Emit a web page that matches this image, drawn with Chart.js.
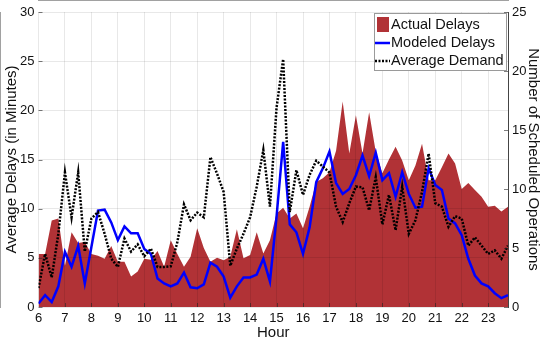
<!DOCTYPE html>
<html>
<head>
<meta charset="utf-8">
<script src="https://cdn.jsdelivr.net/npm/chart.js@4.4.1/dist/chart.umd.min.js"></script>
<style>
    html, body { margin: 0; padding: 0; background: #fff; }
    #delayChart { display: block; }
</style>
</head>
<body>
<canvas id="delayChart" width="542" height="344"></canvas>
<script>
// Quarter-hour bins, 6:00 to 23:45
const hours = [
    6, 6.25, 6.5, 6.75, 7, 7.25, 7.5, 7.75, 8, 8.25, 8.5, 8.75,
    9, 9.25, 9.5, 9.75, 10, 10.25, 10.5, 10.75, 11, 11.25, 11.5, 11.75,
    12, 12.25, 12.5, 12.75, 13, 13.25, 13.5, 13.75, 14, 14.25, 14.5, 14.75,
    15, 15.25, 15.5, 15.75, 16, 16.25, 16.5, 16.75, 17, 17.25, 17.5, 17.75,
    18, 18.25, 18.5, 18.75, 19, 19.25, 19.5, 19.75, 20, 20.25, 20.5, 20.75,
    21, 21.25, 21.5, 21.75, 22, 22.25, 22.5, 22.75, 23, 23.25, 23.5, 23.75
];

// Left axis (minutes)
const actualDelays = [
    5.4, 5.4, 8.8, 9.0, 4.2, 7.6, 6.5, 6.6, 5.4, 5.2, 4.9, 6.2,
    4.6, 4.6, 3.1, 3.6, 4.9, 4.8, 5.7, 4.1, 6.8, 5.4, 4.1, 5.1,
    8.0, 6.0, 4.6, 5.0, 4.75, 5.1, 7.9, 4.95, 5.3, 7.6, 5.45, 6.8,
    9.5, 10.1, 9.0, 9.5, 8.0, 10.2, 12.7, 13.1, 13.7, 15.9, 20.9, 15.6,
    19.5, 15.6, 19.8, 15.8, 13.6, 15.0, 16.3, 14.9, 12.9, 14.4, 16.6, 12.9,
    12.9, 14.2, 15.6, 14.6, 12.0, 12.6, 11.9, 11.2, 10.2, 10.3, 9.7, 10.2
];

const modeledDelays = [
    0.35, 1.2, 0.5, 2.1, 5.6, 4.1, 6.2, 2.4, 6.1, 9.8, 9.9, 8.6,
    6.8, 8.2, 7.5, 7.5, 5.9, 5.4, 2.9, 2.4, 2.1, 2.4, 3.5, 2.0,
    1.9, 2.3, 4.5, 4.1, 3.1, 0.95, 2.1, 3.0, 3.0, 3.3, 4.9, 2.6,
    9.2, 16.8, 8.4, 7.6, 5.4, 8.1, 12.7, 14.1, 15.8, 12.6, 11.5, 12.0,
    13.4, 15.4, 13.3, 15.7, 12.9, 13.6, 11.2, 13.7, 11.5, 10.1, 10.2, 14.1,
    12.4, 11.9, 9.0, 8.5, 7.3, 4.9, 3.2, 2.4, 2.1, 1.4, 0.9, 1.2
];

// Right axis (scheduled operations)
const averageDemand = [
    1.6, 4.5, 2.5, 6.2, 11.4, 7.6, 11.4, 4.7, 7.5, 8.05, 6.2, 4.1,
    3.4, 5.8, 4.7, 5.3, 4.3, 4.95, 3.4, 3.4, 3.45, 5.5, 8.7, 7.35,
    8.0, 7.6, 12.7, 11.3, 9.75, 3.5, 4.95, 6.2, 7.6, 10.2, 13.3, 8.5,
    16.9, 21.0, 8.05, 11.6, 9.5, 11.2, 12.4, 11.9, 11.4, 8.5, 7.2, 8.8,
    10.2, 10.15, 8.2, 11.0, 7.0, 9.5, 6.5, 10.2, 6.2, 7.35, 9.75, 13.0,
    8.8, 8.5, 6.8, 7.7, 7.5, 5.2, 5.9, 5.2, 4.5, 4.8, 4.1, 5.2
];

const delayTicks = [0, 5, 10, 15, 20, 25, 30];
const demandTicks = [0, 5, 10, 15, 20, 25];

const RED = '#b13236';
const FONT = '"Liberation Sans", Arial, Helvetica, sans-serif';

function toPoints(values) {
    return values.map((v, i) => ({ x: hours[i], y: v }));
}

// MATLAB-style legend box inside the plot
const legendBox = {
    id: 'legendBox',
    afterDraw(chart) {
        const c = chart.ctx;
        const x = chart.chartArea.right - 134, y = chart.chartArea.top + 1;
        const w = 132, h = 57;
        c.save();
        c.fillStyle = '#fff';
        c.fillRect(x, y, w, h);
        c.strokeStyle = '#9a9a9a';
        c.lineWidth = 1;
        c.strokeRect(x + 0.5, y + 0.5, w, h);

        c.font = '14.5px ' + FONT;
        c.fillStyle = '#111';
        c.textBaseline = 'middle';

        // Actual Delays
        c.fillStyle = RED;
        c.fillRect(x + 3, y + 4, 12, 15);
        c.fillStyle = '#111';
        c.fillText('Actual Delays', x + 17, y + 12);

        // Modeled Delays
        c.strokeStyle = '#0000ff';
        c.lineWidth = 2.5;
        c.beginPath();
        c.moveTo(x + 1, y + 30);
        c.lineTo(x + 16, y + 30);
        c.stroke();
        c.fillText('Modeled Delays', x + 17, y + 30);

        // Average Demand
        c.strokeStyle = '#000';
        c.setLineDash([2, 1.5]);
        c.beginPath();
        c.moveTo(x + 1, y + 48);
        c.lineTo(x + 16, y + 48);
        c.stroke();
        c.setLineDash([]);
        c.fillText('Average Demand', x + 17, y + 48);
        c.restore();
    }
};

// small inward tick marks like the original
const innerTicks = {
    id: 'innerTicks',
    afterDatasetsDraw(chart) {
        const { ctx: c, chartArea: a, scales } = chart;
        c.save();
        c.strokeStyle = 'rgba(40,40,40,0.6)';
        c.lineWidth = 1;
        c.beginPath();
        for (let hr = 7; hr <= 23; hr++) {
            const px = Math.round(scales.x.getPixelForValue(hr)) + 0.5;
            c.moveTo(px, a.bottom);
            c.lineTo(px, a.bottom - 4);
        }
        delayTicks.forEach(t => {
            const py = Math.round(scales.y.getPixelForValue(t)) + 0.5;
            c.moveTo(a.left, py);
            c.lineTo(a.left + 4, py);
        });
        demandTicks.forEach(t => {
            const py = Math.round(scales.y2.getPixelForValue(t)) + 0.5;
            c.moveTo(a.right, py);
            c.lineTo(a.right - 4, py);
        });
        c.stroke();
        c.restore();
    }
};

const ctx = document.getElementById('delayChart');

new Chart(ctx, {
    type: 'line',
    data: {
        datasets: [
            {
                label: 'Actual Delays',
                data: toPoints(actualDelays),
                yAxisID: 'y',
                fill: 'origin',
                backgroundColor: RED,
                borderColor: RED,
                borderWidth: 0,
                pointRadius: 0,
                tension: 0,
                order: 3
            },
            {
                label: 'Modeled Delays',
                data: toPoints(modeledDelays),
                yAxisID: 'y',
                fill: false,
                borderColor: '#0000ff',
                borderWidth: 2.5,
                pointRadius: 0,
                tension: 0,
                order: 2
            },
            {
                label: 'Average Demand',
                data: toPoints(averageDemand),
                yAxisID: 'y2',
                fill: false,
                borderColor: '#000',
                borderWidth: 2.5,
                borderDash: [2, 1.5],
                pointRadius: 0,
                tension: 0,
                order: 1
            }
        ]
    },
    options: {
        responsive: false,
        animation: false,
        layout: { padding: { top: 12, left: 0, right: 0, bottom: 0 } },
        scales: {
            x: {
                type: 'linear',
                min: 6,
                max: 23.75,
                afterBuildTicks: scale => {
                    scale.ticks = [6, 7, 8, 9, 10, 11, 12, 13, 14, 15, 16, 17, 18, 19, 20, 21, 22, 23].map(v => ({ value: v }));
                },
                afterFit: scale => { scale.height = 37; },
                grid: { color: 'rgba(0,0,0,0.09)', drawTicks: false, z: 1 },
                border: { color: '#444', width: 1 },
                ticks: {
                    color: '#111',
                    font: { family: FONT, size: 13 },
                    padding: 4,
                    maxRotation: 0,
                    callback: v => v
                },
                title: {
                    display: true,
                    text: 'Hour',
                    color: '#111',
                    font: { family: FONT, size: 15 },
                    padding: { top: 0, bottom: 2 }
                }
            },
            y: {
                position: 'left',
                min: 0,
                max: 30,
                afterBuildTicks: scale => { scale.ticks = delayTicks.map(v => ({ value: v })); },
                afterFit: scale => { scale.width = 38.5; },
                grid: { color: 'rgba(0,0,0,0.09)', drawTicks: false, z: 1 },
                border: { color: '#444', width: 1 },
                ticks: {
                    color: '#111',
                    font: { family: FONT, size: 13 },
                    padding: 4
                },
                title: {
                    display: true,
                    text: 'Average Delays (in Minutes)',
                    color: '#111',
                    font: { family: FONT, size: 15 },
                    padding: { top: 3, bottom: 0 }
                }
            },
            y2: {
                position: 'right',
                min: 0,
                max: 25,
                afterBuildTicks: scale => { scale.ticks = demandTicks.map(v => ({ value: v })); },
                afterFit: scale => { scale.width = 34; },
                grid: { drawOnChartArea: false, drawTicks: false },
                border: { color: '#444', width: 1 },
                ticks: {
                    color: '#111',
                    font: { family: FONT, size: 13 },
                    padding: 4
                },
                title: {
                    display: true,
                    text: 'Number of Scheduled Operations',
                    color: '#111',
                    font: { family: FONT, size: 15 },
                    padding: { top: 0, bottom: 2 }
                }
            }
        },
        plugins: {
            legend: { display: false },
            tooltip: { enabled: false }
        }
    },
    plugins: [innerTicks, legendBox]
});
</script>
</body>
</html>
